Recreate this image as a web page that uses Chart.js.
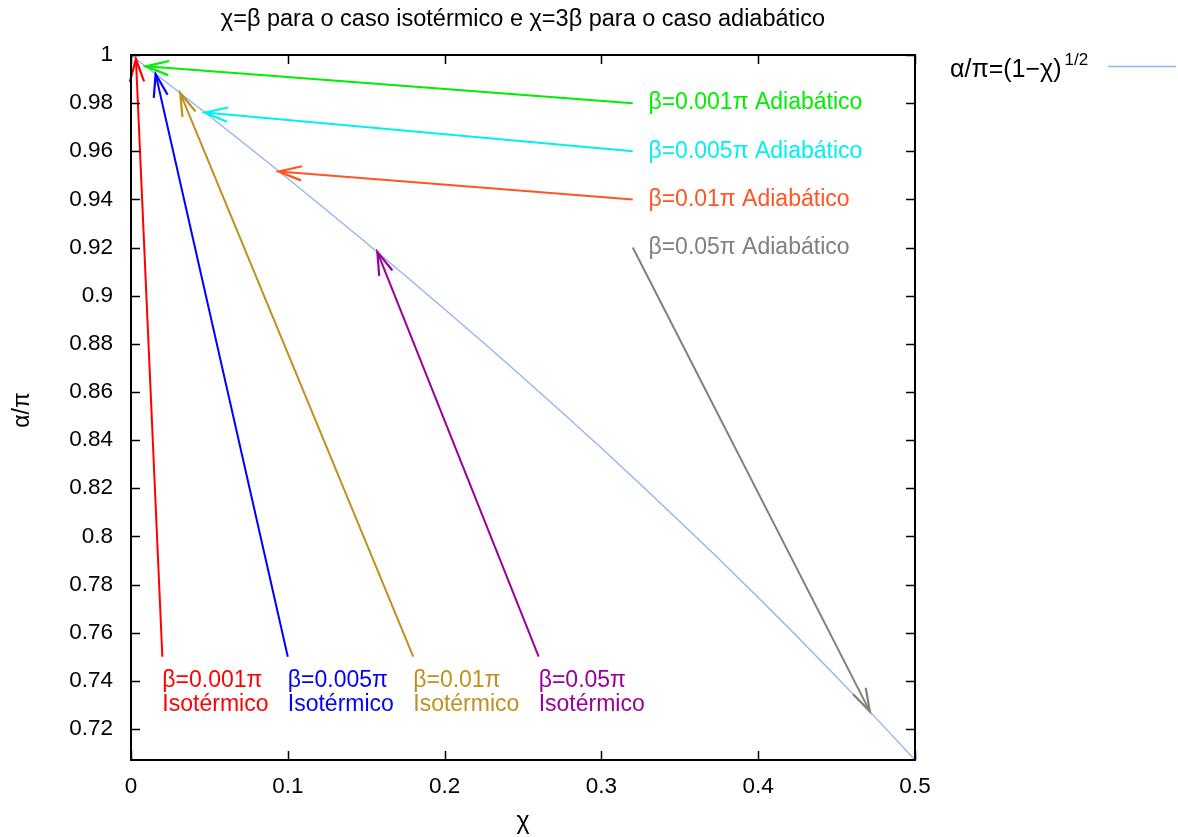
<!DOCTYPE html>
<html>
<head>
<meta charset="utf-8">
<script src="https://cdn.jsdelivr.net/npm/chart.js@4/dist/chart.umd.min.js"></script>
<style>
html, body { margin: 0; padding: 0; background: #fff; }
</style>
</head>
<body>
<canvas id="chart" width="1178" height="837"></canvas>
<script>
// axis ticks
var xTicks = [0, 0.1, 0.2, 0.3, 0.4, 0.5];
var yTicks = [0.72, 0.74, 0.76, 0.78, 0.8, 0.82, 0.84, 0.86, 0.88, 0.9, 0.92, 0.94, 0.96, 0.98, 1];

// alpha/pi = (1-chi)^1/2
var curveChi   = [0, 0.025, 0.05, 0.075, 0.1, 0.125, 0.15, 0.175, 0.2, 0.225, 0.25, 0.275, 0.3, 0.325, 0.35, 0.375, 0.4, 0.425, 0.45, 0.475, 0.5];
var curveAlpha = [1, 0.9874, 0.9747, 0.9618, 0.9487, 0.9354, 0.9220, 0.9083, 0.8944, 0.8803, 0.8660, 0.8515, 0.8367, 0.8216, 0.8062, 0.7906, 0.7746, 0.7583, 0.7416, 0.7246, 0.7071];

// isothermal case (chi = beta)
var isoBeta   = ['0.001π', '0.005π', '0.01π', '0.05π'];
var isoTailX  = [0.02, 0.1, 0.18, 0.26];
var isoTailY  = [0.75, 0.75, 0.75, 0.75];
var isoHeadX  = [0.00314, 0.0157, 0.0314, 0.1571];
var isoHeadY  = [0.9984, 0.9921, 0.9842, 0.9182];

// adiabatic case (chi = 3 beta)
var adiBeta   = ['0.001π', '0.005π', '0.01π', '0.05π'];
var adiTailX  = [0.32, 0.32, 0.32, 0.32];
var adiTailY  = [0.98, 0.96, 0.94, 0.92];
var adiHeadX  = [0.0094, 0.0471, 0.0942, 0.4712];
var adiHeadY  = [0.9953, 0.9761, 0.9516, 0.7273];

var isoColors = ['#ff0000', '#0000ff', '#c0901c', '#990099'];
var adiColors = ['#00ee00', '#00f0f0', '#ff5522', '#808080'];
var curveColor = '#8cb4f4';
var FONT = '"Liberation Sans", Arial, sans-serif';

var datasets = [{
    data: curveChi.map(function (x, i) { return { x: x, y: curveAlpha[i] }; }),
    borderColor: curveColor,
    borderWidth: 1.3,
    showLine: true,
    pointRadius: 0
}];
var arrows = [];
function addArrows(tx, ty, hx, hy, colors) {
    for (var i = 0; i < tx.length; i++) {
        datasets.push({
            data: [{ x: tx[i], y: ty[i] }, { x: hx[i], y: hy[i] }],
            borderColor: colors[i],
            borderWidth: 2,
            showLine: true,
            pointRadius: 0
        });
        arrows.push({ tx: tx[i], ty: ty[i], hx: hx[i], hy: hy[i], color: colors[i] });
    }
}
addArrows(isoTailX, isoTailY, isoHeadX, isoHeadY, isoColors);
addArrows(adiTailX, adiTailY, adiHeadX, adiHeadY, adiColors);

var decorations = {
    id: 'decorations',
    afterDraw: function (chart) {
        var ctx = chart.ctx;
        var xs = chart.scales.x, ys = chart.scales.y;
        var a = chart.chartArea;
        ctx.save();

        // open arrow heads
        arrows.forEach(function (ar) {
            var hx = xs.getPixelForValue(ar.hx), hy = ys.getPixelForValue(ar.hy);
            var tx = xs.getPixelForValue(ar.tx), ty = ys.getPixelForValue(ar.ty);
            var ang = Math.atan2(ty - hy, tx - hx);
            var len = 24, spread = 0.3;
            ctx.strokeStyle = ar.color;
            ctx.lineWidth = 2.2;
            ctx.beginPath();
            ctx.moveTo(hx + len * Math.cos(ang + spread), hy + len * Math.sin(ang + spread));
            ctx.lineTo(hx, hy);
            ctx.lineTo(hx + len * Math.cos(ang - spread), hy + len * Math.sin(ang - spread));
            ctx.stroke();
        });

        // frame and inward ticks on all four sides
        ctx.strokeStyle = '#000';
        ctx.lineWidth = 2;
        ctx.strokeRect(a.left, a.top, a.right - a.left, a.bottom - a.top);
        ctx.lineWidth = 1.5;
        ctx.beginPath();
        xTicks.forEach(function (v) {
            var p = Math.round(xs.getPixelForValue(v)) + 0.5;
            ctx.moveTo(p, a.bottom); ctx.lineTo(p, a.bottom - 9);
            ctx.moveTo(p, a.top); ctx.lineTo(p, a.top + 9);
        });
        yTicks.forEach(function (v) {
            var p = Math.round(ys.getPixelForValue(v)) + 0.5;
            ctx.moveTo(a.left, p); ctx.lineTo(a.left + 9, p);
            ctx.moveTo(a.right, p); ctx.lineTo(a.right - 9, p);
        });
        ctx.stroke();

        // text labels next to the arrows
        ctx.font = '23px ' + FONT;
        ctx.textAlign = 'left';
        ctx.textBaseline = 'middle';
        isoBeta.forEach(function (b, i) {
            var x = xs.getPixelForValue(isoTailX[i]);
            ctx.fillStyle = isoColors[i];
            ctx.fillText('β=' + b, x, ys.getPixelForValue(0.74));
            ctx.fillText('Isotérmico', x, ys.getPixelForValue(0.73));
        });
        adiBeta.forEach(function (b, i) {
            ctx.fillStyle = adiColors[i];
            ctx.fillText('β=' + b + ' Adiabático', xs.getPixelForValue(0.33), ys.getPixelForValue(adiTailY[i]));
        });

        // title
        ctx.fillStyle = '#000';
        ctx.font = '23.5px ' + FONT;
        ctx.textAlign = 'center';
        ctx.textBaseline = 'alphabetic';
        ctx.fillText('χ=β para o caso isotérmico e χ=3β para o caso adiabático', (a.left + a.right) / 2, 26);

        // axis titles
        ctx.font = '25px ' + FONT;
        ctx.fillText('χ', (a.left + a.right) / 2, 829);
        ctx.save();
        ctx.translate(29, 410);
        ctx.rotate(-Math.PI / 2);
        ctx.font = '23px ' + FONT;
        ctx.fillText('α/π', 0, 0);
        ctx.restore();

        // key
        ctx.textAlign = 'left';
        ctx.font = '25px ' + FONT;
        var keyText = 'α/π=(1−χ)';
        ctx.fillText(keyText, 950, 77);
        var w = ctx.measureText(keyText).width;
        ctx.font = '17px ' + FONT;
        ctx.fillText('1/2', 950 + w + 3, 65);
        ctx.strokeStyle = curveColor;
        ctx.lineWidth = 1.3;
        ctx.beginPath();
        ctx.moveTo(1108, 66.5);
        ctx.lineTo(1176, 66.5);
        ctx.stroke();

        ctx.restore();
    }
};

function tickText(v) {
    return String(Math.round(v * 100) / 100);
}

new Chart(document.getElementById('chart').getContext('2d'), {
    type: 'scatter',
    data: { datasets: datasets },
    options: {
        responsive: false,
        animation: false,
        events: [],
        layout: { padding: { top: 55, right: 263, left: 0, bottom: 0 } },
        plugins: { legend: { display: false }, tooltip: { enabled: false } },
        scales: {
            x: {
                type: 'linear',
                min: 0,
                max: 0.5,
                afterFit: function (s) { s.height = 77; },
                afterBuildTicks: function (s) { s.ticks = xTicks.map(function (v) { return { value: v }; }); },
                grid: { display: false, drawTicks: false },
                border: { display: false },
                ticks: { padding: 13, color: '#000', font: { family: FONT, size: 22.5 }, maxRotation: 0, callback: tickText }
            },
            y: {
                type: 'linear',
                min: 0.7071,
                max: 1,
                afterFit: function (s) { s.width = 131; },
                afterBuildTicks: function (s) { s.ticks = yTicks.map(function (v) { return { value: v }; }); },
                grid: { display: false, drawTicks: false },
                border: { display: false },
                ticks: { padding: 18, color: '#000', font: { family: FONT, size: 22.5 }, callback: tickText }
            }
        }
    },
    plugins: [decorations]
});
</script>
</body>
</html>
